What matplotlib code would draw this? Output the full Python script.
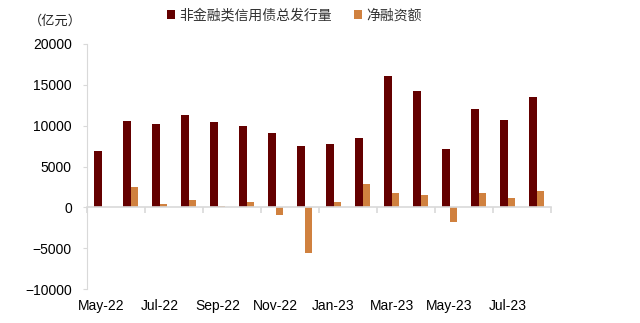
import matplotlib.pyplot as plt
import numpy as np

plt.rcParams['font.family'] = ['Liberation Sans', 'Noto Sans CJK SC', 'DejaVu Sans']

months = ["May-22", "Jun-22", "Jul-22", "Aug-22", "Sep-22", "Oct-22", "Nov-22", "Dec-22",
          "Jan-23", "Feb-23", "Mar-23", "Apr-23", "May-23", "Jun-23", "Jul-23", "Aug-23"]
issuance = [6900, 10550, 10150, 11350, 10500, 9950, 9100, 7500,
            7750, 8500, 16050, 14300, 7100, 12000, 10650, 13550]
net_financing = [50, 2450, 400, 900, 150, 700, -950, -5550,
                 650, 2800, 1800, 1550, -1850, 1800, 1150, 2000]
shown_labels = ["May-22", "Jul-22", "Sep-22", "Nov-22", "Jan-23", "Mar-23", "May-23", "Jul-23"]

red = "#640000"
orange = "#D0813F"
grey = "#D9D9D9"

fig = plt.figure(figsize=(6.4, 3.23), dpi=100)
ax = fig.add_axes([0.136, 0.105, 0.725, 0.759])

x = np.arange(len(months))
w = 0.25
ax.bar(x - w / 2, issuance, width=w, color=red, label="非金融类信用债总发行量")
ax.bar(x + w / 2, net_financing, width=w, color=orange, label="净融资额")

ax.set_xlim(-0.5, len(months) - 0.5)
ax.set_ylim(-10000, 20000)
ax.set_yticks(np.arange(-10000, 20001, 5000))
ax.tick_params(axis='y', labelsize=10, length=3, color=grey, labelcolor="#000000", pad=8)

for s in ["top", "right"]:
    ax.spines[s].set_visible(False)
ax.spines["left"].set_color(grey)
ax.spines["bottom"].set_position(("data", 0))
ax.spines["bottom"].set_color(grey)
ax.spines["bottom"].set_linewidth(1.2)

# tick marks between every two months on the zero line
ax.set_xticks(np.arange(-0.5, len(months), 2))
ax.set_xticklabels([])
ax.tick_params(axis='x', length=4, color=grey, width=1.2)

# month labels at the bottom
sec = ax.secondary_xaxis(0)
sec.set_xticks([months.index(m) for m in shown_labels])
sec.set_xticklabels(shown_labels)
sec.tick_params(length=0, labelsize=10, pad=7)
sec.spines["bottom"].set_visible(False)

fig.text(0.045, 0.922, "（亿元）", fontsize=9.5, color="#222222",
         family=['Noto Sans CJK SC', 'DejaVu Sans'])

handles, labels = ax.get_legend_handles_labels()
leg = fig.legend(handles, labels, loc="center", bbox_to_anchor=(0.46, 0.952), ncol=2,
                 frameon=False, handlelength=0.55, handleheight=0.55, handletextpad=0.3,
                 columnspacing=1.6, labelcolor="#333333",
                 prop={'family': ['Noto Sans CJK SC', 'DejaVu Sans'], 'size': 10})

fig.savefig("out.png", dpi=100)
